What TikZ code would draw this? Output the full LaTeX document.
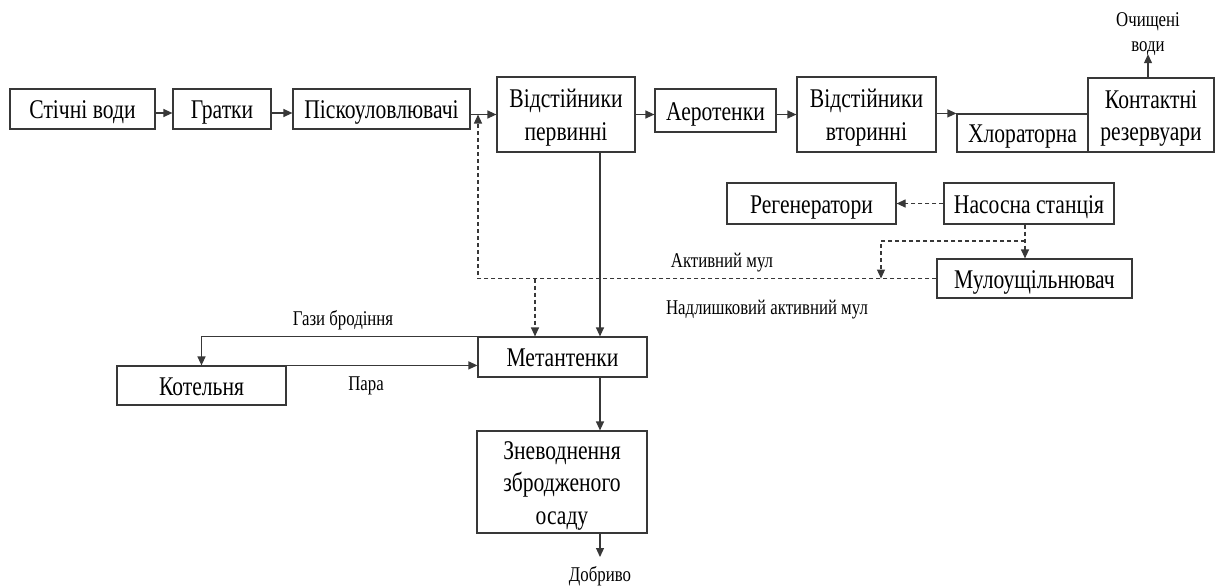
\documentclass[tikz,border=0pt]{standalone}
\usepackage{graphicx}
\usepackage{fontspec}
\setmainfont{Liberation Serif}
\newfontfamily\tnr{Liberation Serif}
\usetikzlibrary{arrows.meta,calc}
\newcommand{\sq}[1]{\raisebox{-3pt}[\height][\depth]{\scalebox{0.8}[1]{\begin{tabular}{@{}c@{}}#1\end{tabular}}}}
\tikzset{
  box/.style={draw=black!78, line width=1.2pt, inner sep=0pt, text=black, font=\tnr\fontsize{27}{32.5}\selectfont},
  lbl/.style={inner sep=0pt, text=black, font=\tnr\fontsize{21}{25}\selectfont},
  arr/.style={draw=black!78, line width=1.2pt, -{Triangle[length=9pt,width=8pt]}},
  dsh/.style={arr, dash pattern=on 4pt off 3pt},
}
\begin{document}
\begin{tikzpicture}[x=1pt,y=-1pt]
\fill[white] (0,0) rectangle (1221,587);
\useasboundingbox (0,0) rectangle (1221,587);
% boxes
\node[box,minimum width=145pt,minimum height=40pt] (stoch) at (82.5,109) {\sq{Стічні води}};
\node[box,minimum width=98pt,minimum height=40pt] (grat) at (222,109) {\sq{Гратки}};
\node[box,minimum width=177pt,minimum height=40pt] (pisk) at (381.5,109) {\sq{Піскоуловлювачі}};
\node[box,minimum width=138pt,minimum height=75pt] (vidp) at (566,114.5) {\sq{Відстійники\\первинні}};
\node[box,minimum width=121pt,minimum height=43pt] (aero) at (715.5,110.5) {\sq{Аеротенки}};
\node[box,minimum width=139pt,minimum height=75pt] (vidv) at (866.5,114.5) {\sq{Відстійники\\вторинні}};
\node[box,minimum width=131pt,minimum height=38pt] (chlor) at (1022.5,133) {\sq{Хлораторна}};
\node[box,minimum width=126pt,minimum height=74pt] (kont) at (1151,115) {\sq{Контактні\\резервуари}};
\node[lbl] (ochy) at (1148,31) {\sq{Очищені\\води}};
\node[box,minimum width=169pt,minimum height=41pt] (regen) at (811.5,203.5) {\sq{Регенератори}};
\node[box,minimum width=170pt,minimum height=41pt] (nasos) at (1029,203.5) {\sq{Насосна станція}};
\node[box,minimum width=195pt,minimum height=39pt] (mul) at (1034.5,278.5) {\sq{Мулоущільнювач}};
\node[box,minimum width=169pt,minimum height=40pt] (meta) at (562.5,357) {\sq{Метантенки}};
\node[box,minimum width=169pt,minimum height=39pt] (kotel) at (201.5,385.5) {\sq{Котельня}};
\node[box,minimum width=170pt,minimum height=102pt] (znev) at (562,482) {\sq{Зневоднення\\збродженого\\осаду}};
\node[lbl] (dobr) at (600,573.5) {\sq{Добриво}};
% labels
\node[lbl] (gaz) at (343,317) {\sq{Гази бродіння}};
\node[lbl] (para) at (366,382) {\sq{Пара}};
\node[lbl] (akt) at (722,259) {\sq{Активний мул}};
\node[lbl] (nadl) at (767,306) {\sq{Надлишковий активний мул}};
% coordinates
\coordinate (j1) at (478,114.5);
\coordinate (j2) at (881,278.5);
\coordinate (j3) at (535,278.5);
\coordinate (b1) at (881,241);
\coordinate (n1) at ([xshift=-4pt]nasos.south);
\coordinate (v1) at ([xshift=34pt]vidp.south);
\coordinate (m1) at ([xshift=37.5pt]meta.south);
\coordinate (d1) at (600,557);
% main row
\draw[arr] ([yshift=-4pt]stoch.east) -- ([yshift=-4pt]grat.west);
\draw[arr] ([yshift=-4pt]grat.east) -- ([yshift=-4pt]pisk.west);
\draw[arr] (pisk.east |- vidp.west) -- (vidp.west);
\draw[arr] (vidp.east) -- (vidp.east -| aero.west);
\draw[arr] (aero.east |- vidv.west) -- (vidv.west);
\draw[arr] (vidv.east |- chlor.north west) -- (chlor.north west);
\draw[arr] (ochy.south |- kont.north) -- ([yshift=2pt]ochy.south);
% dashed
\draw[dsh] (nasos.west) -- (regen.east);
\draw[dsh] (n1) -- (n1 |- mul.north);
\draw[dsh] (n1 |- b1) -| (j2);
\draw[dsh] (mul.west) -- (mul.west -| j1) -- (j1);
\draw[dsh] (j3) -- (j3 |- meta.north);
% solid lower
\draw[arr] (v1) -- (v1 |- meta.north);
\draw[arr] (m1) -- (m1 |- znev.north);
\draw[arr] (m1 |- znev.south) -- (d1);
\draw[arr] (meta.north west) -| (kotel.north);
\draw[arr] (kotel.north east) -- (kotel.north east -| meta.west);
\end{tikzpicture}
\end{document}
